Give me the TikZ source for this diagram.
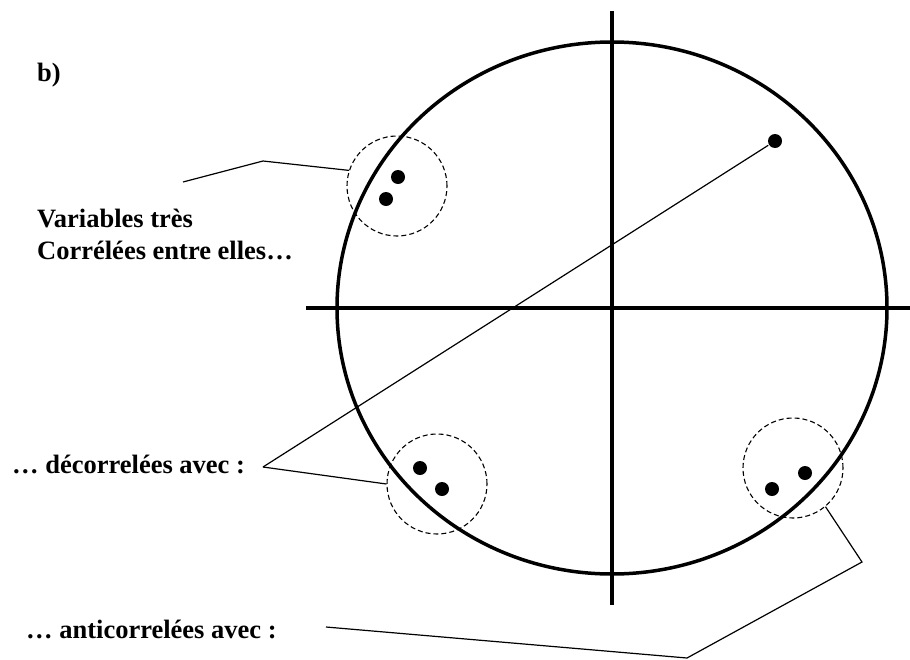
\documentclass[tikz,border=0pt]{standalone}
\usepackage{fontspec}
\setmainfont{Liberation Serif}
\begin{document}
\begin{tikzpicture}[x=1pt, y=-1pt,
   axe/.style={line width=3.5pt},
   fil/.style={line width=1.2pt},
   pt/.style={circle, fill, inner sep=0pt, minimum size=14pt},
   groupe/.style={circle, draw, dash pattern=on 5pt off 3pt, line width=1.1pt, minimum size=100pt, inner sep=0pt},
   txt/.style={anchor=base west, inner sep=0pt, align=left, font=\bfseries\fontsize{26.5}{32}\selectfont}]
   \useasboundingbox (0,0) rectangle (910,659);
   % Cercle des correlations
   \coordinate (O) at (612,308);
   \draw[axe] (O) ellipse [x radius=275, y radius=266];
   \draw[axe] (306,308) -- (910,308);
   \draw[axe] (612,11) -- (612,605);

   % Groupes de variables
   \node[groupe] (G1) at (397,186) {};
   \node[pt] (P1) at (398,177) {};
   \node[pt] (P2) at (386,199) {};
   \node[groupe] (G2) at (437,484) {};
   \node[pt] (P3) at (420,468) {};
   \node[pt] (P4) at (442,489) {};
   \node[groupe] (G3) at (793,468) {};
   \node[pt] (P5) at (772,489) {};
   \node[pt] (P6) at (805,473) {};
   \node[pt] (P7) at (775,141) {};

   % Textes
   \node[txt] (B) at (37,81) {b)};
   \node[txt] (Corr) at (37,259) {Variables très\\Corrélées entre elles…};
   \node[txt] (Decorr) at (12,473) {… décorrelées avec :};
   \node[txt] (Anti) at (26,638) {… anticorrelées avec :};

   % Liens
   \coordinate (c1) at (183,182);
   \coordinate (c2) at (263,161);
   \draw[fil] (c1) -- (c2) -- (G1.162);
   \coordinate (d1) at (263,467);
   \draw[fil, shorten >=8pt] (d1) -- (P7.center);
   \draw[fil] (d1) -- (G2.west);
   \coordinate (a1) at (326,627);
   \coordinate (a2) at (687,658);
   \coordinate (a3) at (862,562);
   \draw[fil] (a1) -- (a2) -- (a3) -- (G3.-50);
\end{tikzpicture}
\end{document}
